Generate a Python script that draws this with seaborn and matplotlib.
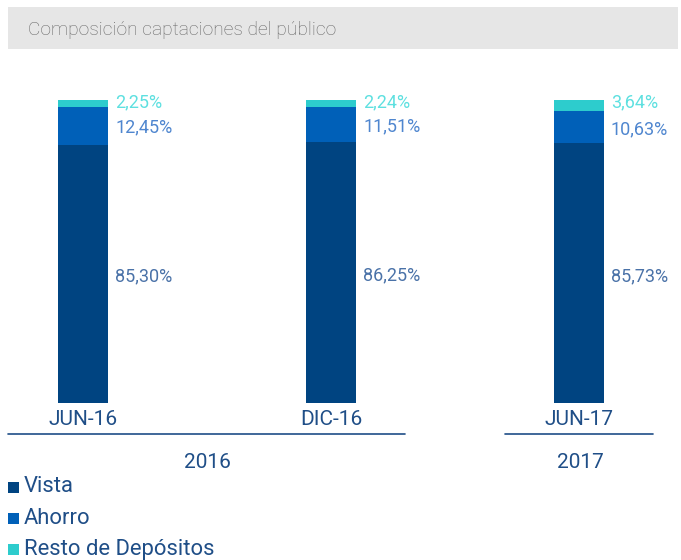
import matplotlib
matplotlib.use("Agg")
from matplotlib import pyplot as plt
from matplotlib.patches import Rectangle
import seaborn as sns
import pandas as pd

periods = ["JUN-16", "DIC-16", "JUN-17"]
vista = [85.30, 86.25, 85.73]
ahorro = [12.45, 11.51, 10.63]
resto = [2.25, 2.24, 3.64]
years = ["2016", "2017"]
series_names = ["Vista", "Ahorro", "Resto de Depósitos"]

c_vista = "#004481"
c_ahorro = "#0060b8"
c_resto = "#2dcccd"
c_text = "#1f4e87"

sns.set_style("white")
plt.rcParams['font.family'] = ['Roboto', 'DejaVu Sans']

df = pd.DataFrame({"periodo": periods, "vista": vista, "ahorro": ahorro, "resto": resto})
df["va"] = df["vista"] + df["ahorro"]
df["total"] = df["va"] + df["resto"]

W, H = 681, 560
fig = plt.figure(figsize=(W / 100, H / 100), dpi=100)

# title box
fig.patches.append(Rectangle((8 / W, 1 - 49 / H), 670 / W, 42 / H, transform=fig.transFigure,
                             facecolor="#e6e6e6", edgecolor="none", zorder=0))
fig.text(28 / W, 1 - 30 / H, "Composición captaciones del público", color="#666666",
         fontsize=13.8, va="center", ha="left", fontweight="light")

# axes: bars from y=100px to y=403px
ax = fig.add_axes([0, (H - 403) / H, 1, 303 / H])
step = 248
bw = 50 / step
for col, c in [("total", c_resto), ("va", c_ahorro), ("vista", c_vista)]:
    sns.barplot(data=df, x="periodo", y=col, color=c, width=bw, saturation=1,
                linewidth=0, ax=ax)
ax.set_xlim(-83 / step, (W - 83) / step)
ax.set_ylim(0, 100)
ax.axis("off")

for i, row in df.iterrows():
    xl = i + bw / 2 + 7 / step
    ax.text(xl, row["vista"] / 2 - 1, f"{row['vista']:.2f}%".replace(".", ","),
            color="#4a72a8", fontsize=13, va="center", ha="left")
    ax.text(xl, row["vista"] + row["ahorro"] / 2 - 0.6, f"{row['ahorro']:.2f}%".replace(".", ","),
            color="#4f86cf", fontsize=13, va="center", ha="left")
    ax.text(xl, 99.2, f"{row['resto']:.2f}%".replace(".", ","),
            color="#5ee0e0", fontsize=13, va="center", ha="left")
    ax.text(i, -5.5, periods[i], color=c_text, fontsize=15, va="center", ha="center")

# group lines and years
fig.add_artist(plt.Line2D([8 / W, 405 / W], [1 - 434 / H] * 2, color=c_text, lw=1.2))
fig.add_artist(plt.Line2D([505 / W, 653 / W], [1 - 434 / H] * 2, color=c_text, lw=1.2))
fig.text(207 / W, 1 - 463 / H, years[0], color=c_text, fontsize=15, ha="center", va="center")
fig.text(580 / W, 1 - 463 / H, years[1], color=c_text, fontsize=15, ha="center", va="center")

# legend
for k, (name, col) in enumerate(zip(series_names, [c_vista, c_ahorro, c_resto])):
    yc = 487 + k * 31
    fig.patches.append(Rectangle((8 / W, 1 - (yc + 6) / H), 11 / W, 11 / H,
                                 transform=fig.transFigure, facecolor=col, edgecolor="none"))
    fig.text(24 / W, 1 - yc / H, name, color=c_text, fontsize=15.8, ha="left", va="center")

fig.savefig("out.png", dpi=100)
